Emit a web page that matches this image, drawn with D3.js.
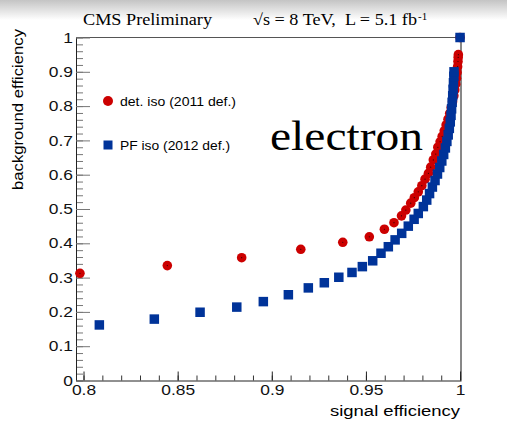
<!DOCTYPE html>
<html>
<head>
<meta charset="utf-8">
<script src="https://cdn.jsdelivr.net/npm/d3@7/dist/d3.min.js"></script>
<style>
  body { margin: 0; background: #fff; }
  svg { display: block; }
</style>
</head>
<body>
<script>
// detector-based isolation (2011 definition)
var detSig = [0.7981, 0.8445, 0.8840, 0.9154, 0.9377, 0.9518, 0.9598, 0.9649, 0.9689, 0.9712,
              0.9738, 0.9757, 0.9778, 0.9797, 0.9814, 0.9832, 0.9844, 0.9858, 0.9871, 0.9882,
              0.9894, 0.9905, 0.9916, 0.9926, 0.9936, 0.9945, 0.9953, 0.9960, 0.9967, 0.9972,
              0.9977, 0.9981, 0.9984, 0.9987, 0.9989, 0.9990, 0.9991, 1.0];
var detBkg = [0.3125, 0.335, 0.358, 0.3825, 0.403, 0.419, 0.441, 0.460, 0.480, 0.497,
              0.517, 0.533, 0.550, 0.568, 0.587, 0.604, 0.622, 0.643, 0.660, 0.680,
              0.696, 0.712, 0.728, 0.745, 0.762, 0.779, 0.796, 0.813, 0.830, 0.847,
              0.864, 0.881, 0.898, 0.915, 0.930, 0.942, 0.950, 1.0];

// particle-flow isolation (2012 definition)
var pfSig = [0.8084, 0.8376, 0.8619, 0.8814, 0.8955, 0.9088, 0.9194, 0.9279, 0.9356, 0.9426,
             0.9481, 0.9536, 0.9580, 0.9619, 0.9655, 0.9690, 0.9725, 0.9756, 0.9778, 0.9805,
             0.9823, 0.9838, 0.9853, 0.9867, 0.9880, 0.9892, 0.9903, 0.9913, 0.9922, 0.9930,
             0.9937, 0.9943, 0.9948, 0.9952, 0.9955, 0.9958, 0.9961, 0.9963, 0.9965, 0.9967,
             0.9968, 1.0];
var pfBkg = [0.162, 0.179, 0.199, 0.214, 0.230, 0.250, 0.270, 0.285, 0.301, 0.315,
             0.332, 0.349, 0.371, 0.390, 0.410, 0.429, 0.450, 0.470, 0.487, 0.507,
             0.526, 0.545, 0.564, 0.583, 0.602, 0.621, 0.640, 0.659, 0.678, 0.697,
             0.716, 0.735, 0.754, 0.773, 0.792, 0.811, 0.830, 0.849, 0.868, 0.887,
             0.900, 1.0];

var xTicks = [0.8, 0.85, 0.9, 0.95, 1];
var xTickLabels = ["0.8", "0.85", "0.9", "0.95", "1"];
var yTicks = [0, 0.1, 0.2, 0.3, 0.4, 0.5, 0.6, 0.7, 0.8, 0.9, 1];
var yTickLabels = ["0", "0.1", "0.2", "0.3", "0.4", "0.5", "0.6", "0.7", "0.8", "0.9", "1"];
var xMinor = d3.range(0, 21).map(function(i) { return 0.8 + i * 0.01; });
var yMinor = d3.range(0, 51).map(function(i) { return i * 0.02; });

var seriesNames = ["det. iso (2011 def.)", "PF iso (2012 def.)"];

var screen = { width: 507, height: 421 };
var red = "#cc0000", blue = "#003399";
var sans = "'Liberation Sans', Arial, sans-serif";
var serif = "'Liberation Serif', 'Times New Roman', serif";

var svg = d3.select("body").append("svg")
            .attr("width", screen.width)
            .attr("height", screen.height);

// grey shadow along the top edge
var defs = svg.append("defs");
var grad = defs.append("linearGradient")
               .attr("id", "shade")
               .attr("x1", 0).attr("y1", 0).attr("x2", 0).attr("y2", 1);
grad.append("stop").attr("offset", "0%").attr("stop-color", "#c4c4c4");
grad.append("stop").attr("offset", "100%").attr("stop-color", "#ffffff");
svg.append("rect")
   .attr("x", 0).attr("y", 0)
   .attr("width", screen.width).attr("height", 20)
   .attr("fill", "url(#shade)");

var xScale = d3.scaleLinear().domain([0.796, 1.0005]).range([76, 461]);
var yScale = d3.scaleLinear().domain([0, 1]).range([380.5, 37.5]);

// frame
svg.append("line")
   .attr("x1", xScale.range()[0]).attr("x2", xScale.range()[1])
   .attr("y1", yScale(1)).attr("y2", yScale(1))
   .attr("stroke", "#555");
svg.append("line")
   .attr("x1", xScale.range()[1]).attr("x2", xScale.range()[1])
   .attr("y1", yScale(1)).attr("y2", yScale(0))
   .attr("stroke", "#111");

// minor ticks
svg.append("g")
   .attr("transform", "translate(0," + yScale(0) + ")")
   .call(d3.axisBottom(xScale).tickValues(xMinor).tickSizeInner(-5).tickSizeOuter(0).tickFormat(""))
   .call(function(g) { g.select(".domain").remove(); g.selectAll("line").attr("stroke", "#333"); });
svg.append("g")
   .attr("transform", "translate(" + xScale.range()[0] + ",0)")
   .call(d3.axisLeft(yScale).tickValues(yMinor).tickSizeInner(-7).tickSizeOuter(0).tickFormat(""))
   .call(function(g) { g.select(".domain").remove(); g.selectAll("line").attr("stroke", "#777"); });

// x axis
var xAxis = d3.axisBottom(xScale)
              .tickValues(xTicks)
              .tickSizeInner(-9).tickSizeOuter(0).tickPadding(4)
              .tickFormat(function(d, i) { return xTickLabels[i]; });
svg.append("g")
   .attr("class", "xAxis")
   .attr("transform", "translate(0," + yScale(0) + ")")
   .call(xAxis)
   .call(function(g) {
     g.select(".domain").attr("stroke", "#222");
     g.selectAll("line").attr("stroke", "#222");
     g.selectAll("text")
      .attr("font-family", sans).attr("font-size", 14.5).attr("fill", "#111")
      .attr("transform", "scale(1.2,1)");
   });

// y axis
var yAxis = d3.axisLeft(yScale)
              .tickValues(yTicks)
              .tickSizeInner(-14).tickSizeOuter(0).tickPadding(3)
              .tickFormat(function(d, i) { return yTickLabels[i]; });
svg.append("g")
   .attr("class", "yAxis")
   .attr("transform", "translate(" + xScale.range()[0] + ",0)")
   .call(yAxis)
   .call(function(g) {
     g.select(".domain").attr("stroke", "#222");
     g.selectAll("line").attr("stroke", "#777");
     g.selectAll("text")
      .attr("font-family", sans).attr("font-size", 14.5).attr("fill", "#111")
      .attr("x", -2.5)
      .attr("transform", "scale(1.2,1)");
   });

// axis titles
svg.append("text")
   .attr("x", 460).attr("y", 416)
   .attr("text-anchor", "end")
   .attr("font-family", sans).attr("font-size", 14)
   .attr("textLength", 130).attr("lengthAdjust", "spacingAndGlyphs")
   .text("signal efficiency");
svg.append("text")
   .attr("transform", "translate(23,29) rotate(-90)")
   .attr("text-anchor", "end")
   .attr("font-family", sans).attr("font-size", 14)
   .attr("textLength", 161).attr("lengthAdjust", "spacingAndGlyphs")
   .text("background efficiency");

// header
svg.append("text")
   .attr("x", 83).attr("y", 25)
   .attr("font-family", serif).attr("font-size", 16)
   .attr("textLength", 129).attr("lengthAdjust", "spacingAndGlyphs")
   .text("CMS Preliminary");
svg.append("text")
   .attr("x", 253).attr("y", 25)
   .attr("font-family", serif).attr("font-size", 16)
   .attr("textLength", 164).attr("lengthAdjust", "spacingAndGlyphs")
   .style("white-space", "pre")
   .text("\u221As = 8 TeV,  L = 5.1 fb");
svg.append("text")
   .attr("x", 418).attr("y", 20)
   .attr("font-family", serif).attr("font-size", 11)
   .text("-1");

// big label
svg.append("text")
   .attr("x", 270).attr("y", 150)
   .attr("font-family", serif).attr("font-size", 42)
   .attr("textLength", 153).attr("lengthAdjust", "spacingAndGlyphs")
   .text("electron");

// data: detector isolation (circles)
var detData = detSig.map(function(s, i) { return { s: s, b: detBkg[i] }; });
var pfData = pfSig.map(function(s, i) { return { s: s, b: pfBkg[i] }; });

svg.append("g")
   .attr("class", "det")
   .selectAll("circle")
   .data(detData)
   .enter()
   .append("circle")
   .attr("cx", function(d) { return xScale(d.s); })
   .attr("cy", function(d) { return yScale(d.b); })
   .attr("r", 4.8)
   .attr("fill", red);

svg.append("g")
   .attr("class", "detDots")
   .selectAll("circle")
   .data(detData)
   .enter()
   .append("circle")
   .attr("cx", function(d) { return xScale(d.s); })
   .attr("cy", function(d) { return yScale(d.b); })
   .attr("r", 0.6)
   .attr("fill", "#300");

// data: PF isolation (squares)
var sq = 9.5;
svg.append("g")
   .attr("class", "pf")
   .selectAll("rect")
   .data(pfData)
   .enter()
   .append("rect")
   .attr("x", function(d) { return xScale(d.s) - sq / 2; })
   .attr("y", function(d) { return yScale(d.b) - sq / 2; })
   .attr("width", sq).attr("height", sq)
   .attr("fill", blue);

// legend
var legend = svg.append("g").attr("class", "legend");
legend.append("circle").attr("cx", 108).attr("cy", 101).attr("r", 5).attr("fill", red);
legend.append("rect").attr("x", 103.5).attr("y", 140.5).attr("width", 9).attr("height", 9).attr("fill", blue);
legend.selectAll("text")
      .data(seriesNames)
      .enter()
      .append("text")
      .attr("x", 120)
      .attr("y", function(d, i) { return i === 0 ? 105.5 : 149.5; })
      .attr("font-family", sans).attr("font-size", 12.5)
      .attr("textLength", function(d, i) { return i === 0 ? 116 : 110; })
      .attr("lengthAdjust", "spacingAndGlyphs")
      .text(function(d) { return d; });
</script>
</body>
</html>
